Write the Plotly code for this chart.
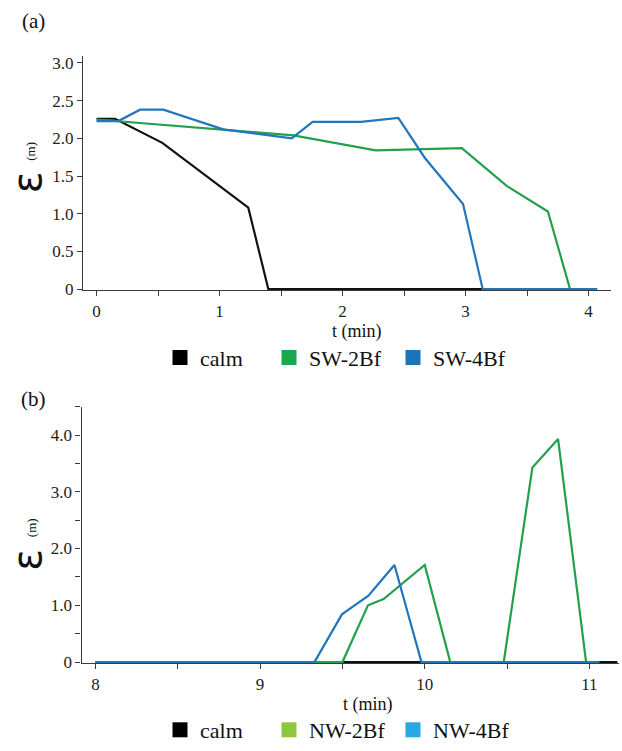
import plotly.graph_objects as go

W, H = 622, 751

# ---------------- data: panel (a) ----------------
calm_a_t = [0, 0.15, 0.535, 1.234, 1.397, 4.07]
calm_a_e = [2.26, 2.26, 1.94, 1.08, 0, 0]

sw2_t = [0, 1.6, 2.27, 2.97, 3.335, 3.67, 3.85, 4.07]
sw2_e = [2.25, 2.04, 1.84, 1.87, 1.37, 1.03, 0, 0]

sw4_t = [0, 0.177, 0.354, 0.543, 1.03, 1.587, 1.757, 2.15, 2.454, 2.67, 2.98, 3.14, 4.07]
sw4_e = [2.23, 2.23, 2.38, 2.38, 2.12, 2.0, 2.22, 2.22, 2.27, 1.74, 1.13, 0, 0]

# ---------------- data: panel (b) ----------------
calm_b_t = [8, 11.17]
calm_b_e = [0, 0]

nw2_t = [8, 9.50, 9.655, 9.75, 10.0, 10.155, 10.48, 10.654, 10.81, 10.98, 11.06]
nw2_e = [0, 0, 1.0, 1.11, 1.71, 0, 0, 3.43, 3.93, 0, 0]

nw4_t = [8, 9.33, 9.497, 9.658, 9.816, 9.98, 11.06]
nw4_e = [0, 0, 0.84, 1.17, 1.71, 0, 0]

# tick labels
a_xticks = [0, 1, 2, 3, 4]
a_yticks = [0, 0.5, 1.0, 1.5, 2.0, 2.5, 3.0]
a_yticktext = ["0", "0.5", "1.0", "1.5", "2.0", "2.5", "3.0"]
b_xticks = [8, 9, 10, 11]
b_yticks = [0, 1, 2, 3, 4]
b_yticktext = ["0", "1.0", "2.0", "3.0", "4.0"]

legend_a = ["calm", "SW-2Bf", "SW-4Bf"]
legend_b = ["calm", "NW-2Bf", "NW-4Bf"]

# ---------------- styles ----------------
SERIF = "Liberation Serif, Times New Roman, serif"
C_BLACK = "#111111"
C_GREEN = "#23a04c"
C_BLUE = "#2176bc"
LEG_A = ["#000000", "#1aa84f", "#1c73ba"]
LEG_B = ["#000000", "#8dc63f", "#29a9e0"]
AX = "#3a3a3a"

def px_x(p):
    return p / W

def px_y(p):
    return 1 - p / H

fig = go.Figure()

# panel (a) lines
for t, e, c in [(calm_a_t, calm_a_e, C_BLACK), (sw2_t, sw2_e, C_GREEN), (sw4_t, sw4_e, C_BLUE)]:
    fig.add_trace(go.Scatter(x=t, y=e, mode="lines", line=dict(color=c, width=2.2),
                             xaxis="x", yaxis="y", showlegend=False, hoverinfo="skip"))
# panel (b) lines
for t, e, c in [(calm_b_t, calm_b_e, C_BLACK), (nw2_t, nw2_e, C_GREEN), (nw4_t, nw4_e, C_BLUE)]:
    fig.add_trace(go.Scatter(x=t, y=e, mode="lines", line=dict(color=c, width=2.2),
                             xaxis="x2", yaxis="y2", showlegend=False, hoverinfo="skip"))

# legends: one legend per entry for exact placement
leg_centers = [180, 289, 413]
leg_names = ["legend", "legend2", "legend3", "legend4", "legend5", "legend6"]
legend_layout = {}
k = 0
for names, cols, ycen in [(legend_a, LEG_A, 361), (legend_b, LEG_B, 739)]:
    for name, col, xc in zip(names, cols, leg_centers):
        ln = leg_names[k]
        fig.add_trace(go.Scatter(x=[None], y=[None], mode="markers", name=name,
                                 marker=dict(symbol="square", size=15, color=col),
                                 legend=ln, showlegend=True,
                                 xaxis="x" if k < 3 else "x2", yaxis="y" if k < 3 else "y2"))
        legend_layout[ln] = dict(x=px_x(xc - 20), y=px_y(ycen), xanchor="left", yanchor="middle",
                                 orientation="h", bgcolor="rgba(0,0,0,0)", borderwidth=0,
                                 font=dict(family=SERIF, size=22, color="#111"),
                                 itemclick=False, itemdoubleclick=False)
        k += 1

axis_common = dict(showline=True, linecolor=AX, linewidth=1.3, showgrid=False, zeroline=False,
                   ticks="outside", ticklen=5, tickcolor=AX, tickwidth=1.3,
                   tickfont=dict(family=SERIF, size=17, color="#222"))

fig.update_layout(
    width=W, height=H,
    margin=dict(l=0, r=0, t=0, b=0),
    paper_bgcolor="white", plot_bgcolor="white",
    xaxis=dict(domain=[px_x(83), px_x(611)], range=[-0.11, 4.183], anchor="y",
               tickmode="array", tickvals=a_xticks,
               minor=dict(dtick=0.5, tick0=0, ticks="outside", ticklen=5, tickcolor=AX, tickwidth=1.3),
               **axis_common),
    yaxis=dict(domain=[px_y(292.5), px_y(55)], range=[-0.014, 3.09], anchor="x",
               tickmode="array", tickvals=a_yticks, ticktext=a_yticktext,
               **axis_common),
    xaxis2=dict(domain=[px_x(81.5), px_x(619)], range=[7.915, 11.18], anchor="y2",
                tickmode="array", tickvals=b_xticks,
                minor=dict(dtick=0.5, tick0=0, ticks="outside", ticklen=5, tickcolor=AX, tickwidth=1.3),
                **axis_common),
    yaxis2=dict(domain=[px_y(671), px_y(410.7)], range=[-0.02, 4.5], anchor="x2",
                tickmode="array", tickvals=b_yticks, ticktext=b_yticktext,
                minor=dict(dtick=0.5, tick0=0, ticks="outside", ticklen=5, tickcolor=AX, tickwidth=1.3),
                **axis_common),
    **legend_layout,
)

annos = [
    dict(text="(a)", x=px_x(33), y=px_y(19), font=dict(family=SERIF, size=21, color="#111")),
    dict(text="(b)", x=px_x(33), y=px_y(403), font=dict(family=SERIF, size=21, color="#111")),
    dict(text="t (min)", x=px_x(357), y=px_y(334), font=dict(family=SERIF, size=18, color="#111")),
    dict(text="t (min)", x=px_x(368), y=px_y(713), font=dict(family=SERIF, size=18, color="#111")),
    dict(text="ε", x=px_x(27), y=px_y(183), textangle=-90,
         font=dict(family="DejaVu Sans", size=40, color="#111")),
    dict(text="(m)", x=px_x(31), y=px_y(152), textangle=-90,
         font=dict(family=SERIF, size=13, color="#111")),
    dict(text="ε", x=px_x(27), y=px_y(566), textangle=-90,
         font=dict(family="DejaVu Sans", size=40, color="#111")),
    dict(text="(m)", x=px_x(31), y=px_y(534), textangle=-90,
         font=dict(family=SERIF, size=13, color="#111")),
]
for a in annos:
    a.update(xref="paper", yref="paper", showarrow=False, xanchor="center", yanchor="middle")
fig.update_layout(annotations=annos)

fig.write_html("out.html")
